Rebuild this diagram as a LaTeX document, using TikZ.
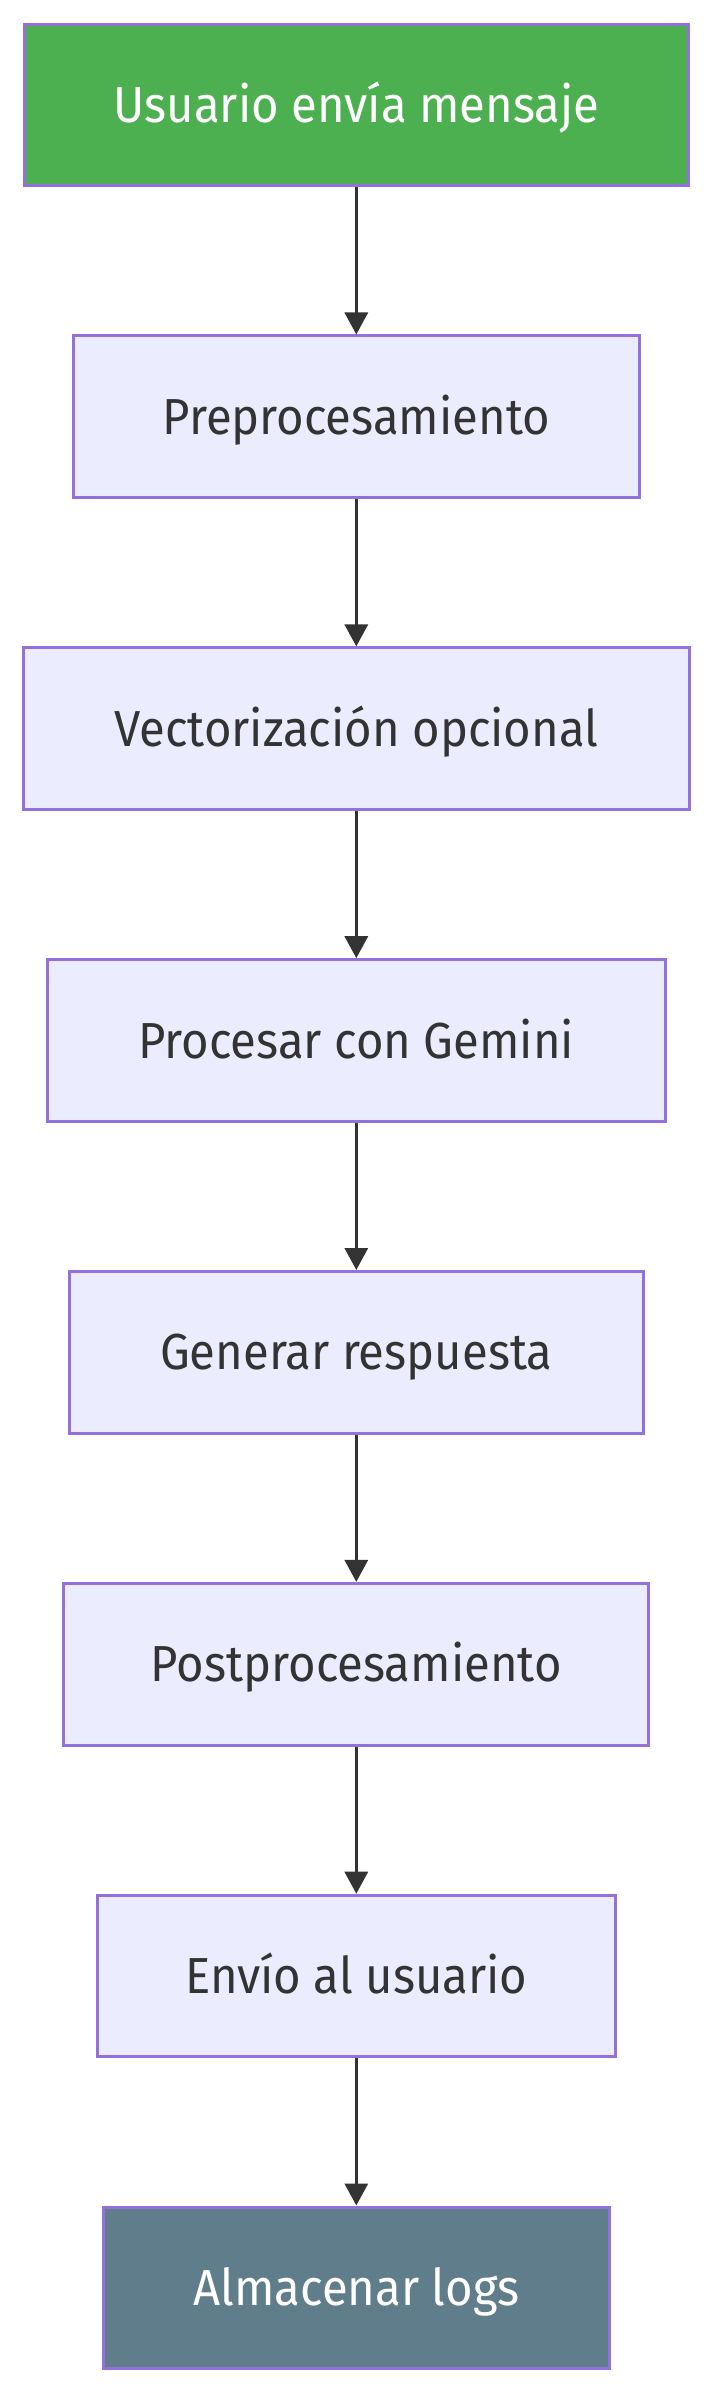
\documentclass[tikz,border=0pt]{standalone}
\usepackage{fontspec}
\setmainfont{Fira Sans}
\usetikzlibrary{arrows.meta}
\definecolor{bordercol}{HTML}{9370DB}
\definecolor{boxfill}{HTML}{ECECFF}
\definecolor{greenfill}{HTML}{4CAF50}
\definecolor{slatefill}{HTML}{607D8B}
\definecolor{txt}{HTML}{333333}
\newlength\refw
\newcommand\lblfont{\fontsize{38}{40}\selectfont}
\AtBeginDocument{%
  \settowidth{\refw}{\lblfont Vectorización opcional}%
  \pgfmathsetmacro\tmpsx{363/\refw}%
  \xdef\sx{\tmpsx}}
\newcommand\lbl[1]{\scalebox{\sx}[1]{#1}}
\begin{document}
\begin{tikzpicture}[x=0.75pt,y=-0.75pt,
  box/.style={draw=bordercol, line width=2.25pt, fill=boxfill, text=txt,
    minimum height=121.2pt, inner sep=0pt, text height=26.25pt, text depth=0pt,
    font=\lblfont},
  startbox/.style={box, fill=greenfill, text=white},
  endbox/.style={box, fill=slatefill, text=white},
  flow/.style={draw=txt, line width=2.4pt, -{Triangle[length=16.5pt,width=17.25pt]}}]
\useasboundingbox (0,0) rectangle (713,2393);
\fill[white] (0,0) rectangle (713,2393);
\node[startbox, minimum width=498.2pt] (n1) at (356.3,105) {\lbl{Usuario envía mensaje}};
\node[box, minimum width=424.2pt] (n2) at (356.3,416.8) {\lbl{Preprocesamiento}};
\node[box, minimum width=499.5pt] (n3) at (356.3,728.7) {\lbl{Vectorización opcional}};
\node[box, minimum width=463.5pt] (n4) at (356.3,1040.5) {\lbl{Procesar con Gemini}};
\node[box, minimum width=430.5pt] (n5) at (356.3,1352.3) {\lbl{Generar respuesta}};
\node[box, minimum width=438.75pt] (n6) at (356.3,1664.2) {\lbl{Postprocesamiento}};
\node[box, minimum width=388.5pt] (n7) at (356.3,1976.0) {\lbl{Envío al usuario}};
\node[endbox, minimum width=379.3pt] (n8) at (356.3,2287.8) {\lbl{Almacenar logs}};
\draw[flow] (n1) -- (n2);
\draw[flow] (n2) -- (n3);
\draw[flow] (n3) -- (n4);
\draw[flow] (n4) -- (n5);
\draw[flow] (n5) -- (n6);
\draw[flow] (n6) -- (n7);
\draw[flow] (n7) -- (n8);
\end{tikzpicture}
\end{document}
